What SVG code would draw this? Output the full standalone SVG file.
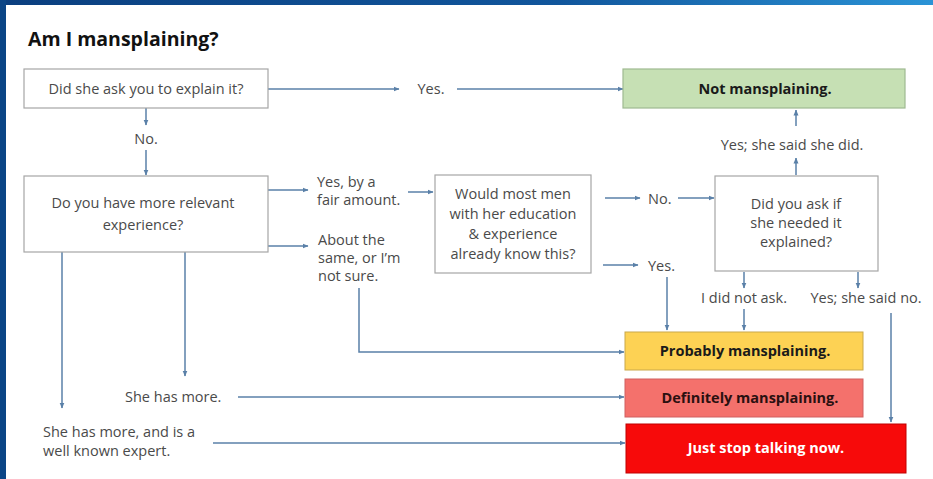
<svg xmlns="http://www.w3.org/2000/svg" width="933" height="479" viewBox="0 0 933 479">
<defs>
<linearGradient id="topbar" x1="0" y1="0" x2="1" y2="0">
<stop offset="0" stop-color="#0b3f7f"/>
<stop offset="0.6" stop-color="#11569c"/>
<stop offset="1" stop-color="#2a93d6"/>
</linearGradient>
<marker id="ah" viewBox="0 0 6 6" refX="5.5" refY="3" markerWidth="6" markerHeight="6" markerUnits="userSpaceOnUse" orient="auto">
<path d="M0,0.5 L6,3 L0,5.5 z" fill="#5a80a8"/>
</marker>
<style>
.q{fill:#ffffff;stroke:#a6a6a6;stroke-width:1.2}
.t{font-family:"Open Sans","Liberation Sans",sans-serif;font-size:14.5px;fill:#4a4a4a}
.m{text-anchor:middle}
.b{font-family:"Open Sans","Liberation Sans",sans-serif;font-size:14.5px;font-weight:bold;text-anchor:middle}
.c{fill:none;stroke:#5a80a8;stroke-width:1.5;marker-end:url(#ah)}
</style>
</defs>
<rect x="0" y="0" width="933" height="479" fill="#ffffff"/>
<rect x="0" y="0" width="933" height="5" fill="url(#topbar)"/>
<rect x="0" y="0" width="6" height="479" fill="#0b4586"/>

<text x="28" y="46" style="font-family:'Open Sans','Liberation Sans',sans-serif;font-size:19.5px;font-weight:bold;fill:#111">Am I mansplaining?</text>

<g id="connectors">
<path class="c" d="M268,89 H399"/>
<path class="c" d="M457,89 H623"/>
<path class="c" d="M146,108 V125"/>
<path class="c" d="M146,150 V175"/>
<path class="c" d="M268,190 H308"/>
<path class="c" d="M268,246 H308"/>
<path class="c" d="M408,192 H433"/>
<path class="c" d="M359,288 V352 H624"/>
<path class="c" d="M62,252 V408"/>
<path class="c" d="M185,252 V376"/>
<path class="c" d="M238,397 H624"/>
<path class="c" d="M213,443 H625"/>
<path class="c" d="M605,198 H640"/>
<path class="c" d="M678,198 H714"/>
<path class="c" d="M603,265 H638"/>
<path class="c" d="M667,277 V330"/>
<path class="c" d="M796,175 V158"/>
<path class="c" d="M796,126 V110"/>
<path class="c" d="M744,272 V288"/>
<path class="c" d="M744,309 V330"/>
<path class="c" d="M858,272 V288"/>
<path class="c" d="M891,313 V422"/>
</g>

<g id="labels">
<text class="t m" x="431" y="94">Yes.</text>
<text class="t m" x="146" y="144">No.</text>
<text class="t" x="317" y="187">Yes, by a</text>
<text class="t" x="317" y="205">fair amount.</text>
<text class="t" x="318" y="245">About the</text>
<text class="t" x="318" y="263">same, or I’m</text>
<text class="t" x="318" y="281">not sure.</text>
<text class="t" x="125" y="402">She has more.</text>
<text class="t" x="43" y="437">She has more, and is a</text>
<text class="t" x="43" y="456">well known expert.</text>
<text class="t m" x="792" y="150">Yes; she said she did.</text>
<text class="t" x="648" y="204">No.</text>
<text class="t" x="648" y="271">Yes.</text>
<text class="t m" x="744" y="303">I did not ask.</text>
<text class="t m" x="866" y="303">Yes; she said no.</text>
</g>

<g id="q1">
<rect class="q" x="24" y="69" width="244" height="39"/>
<text class="t m" x="146" y="94">Did she ask you to explain it?</text>
</g>
<g id="q2">
<rect class="q" x="24" y="176" width="244" height="76"/>
<text class="t m" x="143" y="208">Do you have more relevant</text>
<text class="t m" x="143" y="230">experience?</text>
</g>
<g id="q3">
<rect class="q" x="435" y="175" width="156" height="98"/>
<text class="t m" x="513" y="199">Would most men</text>
<text class="t m" x="513" y="219">with her education</text>
<text class="t m" x="513" y="239">&amp; experience</text>
<text class="t m" x="513" y="259">already know this?</text>
</g>
<g id="q4">
<rect class="q" x="715" y="176" width="163" height="95"/>
<text class="t m" x="796" y="209">Did you ask if</text>
<text class="t m" x="796" y="228">she needed it</text>
<text class="t m" x="796" y="247">explained?</text>
</g>
<g id="r-not">
<rect x="623" y="69" width="282" height="39" fill="#c6e0b4" stroke="#9fb991" stroke-width="1.2"/>
<text class="b" x="765" y="94" fill="#1a1a1a">Not mansplaining.</text>
</g>
<g id="r-probably">
<rect x="625" y="332" width="238" height="38" fill="#fdd254" stroke="#c9a84a" stroke-width="1"/>
<text class="b" x="745" y="356" fill="#1a1a1a">Probably mansplaining.</text>
</g>
<g id="r-definitely">
<rect x="625" y="379" width="238" height="38" fill="#f4716c" stroke="#d06060" stroke-width="1"/>
<text class="b" x="750" y="403" fill="#2a1010">Definitely mansplaining.</text>
</g>
<g id="r-stop">
<rect x="626" y="424" width="280" height="49" fill="#f70a0a" stroke="#c00000" stroke-width="1"/>
<text class="b" x="766" y="453" fill="#ffffff">Just stop talking now.</text>
</g>
</svg>
